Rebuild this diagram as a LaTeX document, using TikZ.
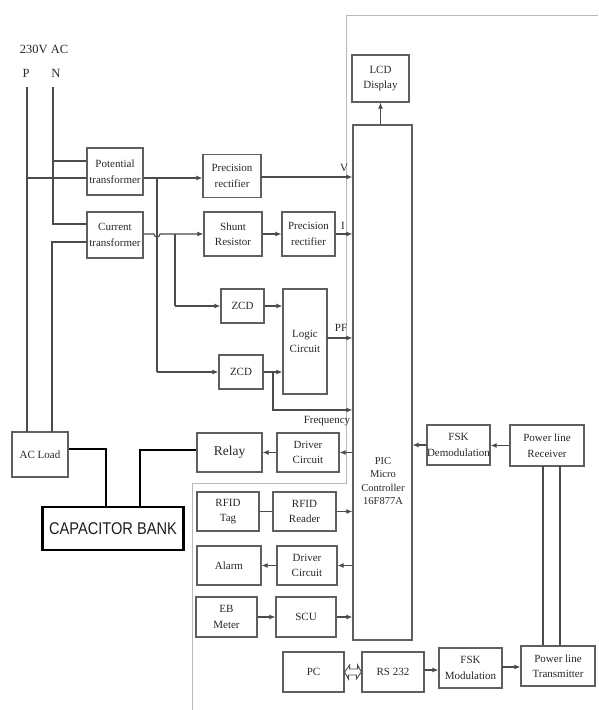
\documentclass[tikz,border=0pt]{standalone}
\usepackage{fontspec}
\setmainfont{Liberation Serif}
\newfontfamily\capfont{Liberation Sans}
\usetikzlibrary{arrows.meta}
\definecolor{boxc}{RGB}{95,95,95}
\definecolor{linec}{RGB}{75,75,75}
\definecolor{txtc}{RGB}{40,40,40}
\definecolor{outc}{RGB}{185,185,185}
\tikzset{
  box/.style={draw=boxc, line width=1.2pt, fill=white, align=center, inner sep=0pt,
    font=\fontsize{11}{15.5}\selectfont, text=txtc},
  arr/.style={-{Latex[length=6pt,width=5pt]}, line width=1.1pt, draw=linec},
  wire/.style={line width=1.1pt, draw=linec},
  blk/.style={line width=1.6pt, draw=black},
  lbl/.style={font=\fontsize{11}{12}\selectfont, text=txtc, inner sep=0pt},
}
\begin{document}
\begin{tikzpicture}[x=1pt, y=-1pt]
\useasboundingbox (0,0) rectangle (598,710);
\fill[white] (0,0) rectangle (598,710);
% light outline
\draw[outc, line width=1pt] (598,15) -- (346,15) -- (346,483) -- (192,483) -- (192,710);
% supply labels
\node[lbl, font=\fontsize{12.5}{14}\selectfont] (acl) at (44,49) {230V AC};
\node[lbl, font=\fontsize{12.5}{14}\selectfont] (pl) at (26,73) {P};
\node[lbl, font=\fontsize{12.5}{14}\selectfont] (nl) at (56,73) {N};
\coordinate (ptop) at (27,87);
\coordinate (ntop) at (53,87);
% boxes
\node[box, minimum width=56pt, minimum height=47pt] (pt) at (115,171.5) {Potential\\transformer};
\node[box, minimum width=56pt, minimum height=46pt] (ct) at (115,235) {Current\\transformer};
\node[box, minimum width=58pt, minimum height=43pt] (pr1) at (232,176) {Precision\\rectifier};
\node[box, minimum width=58pt, minimum height=44pt] (sr) at (233,234) {Shunt\\Resistor};
\node[box, minimum width=53pt, minimum height=44pt] (pr2) at (308.5,234) {Precision\\rectifier};
\node[box, minimum width=59pt, minimum height=515pt] (pic) at (382.5,382.5) {};
\node[lbl, align=center, font=\fontsize{10.5}{13.5}\selectfont] (pictxt) at (383,481) {PIC\\Micro\\Controller\\16F877A};
\node[box, minimum width=57pt, minimum height=47pt] (lcd) at (380.5,78.5) {LCD\\Display};
\node[box, minimum width=43pt, minimum height=34pt] (zcd1) at (242.5,306) {ZCD};
\node[box, minimum width=44pt, minimum height=105pt] (logic) at (305,341.5) {Logic\\Circuit};
\node[box, minimum width=44pt, minimum height=34pt] (zcd2) at (241,372) {ZCD};
\node[box, minimum width=56pt, minimum height=45pt] (acload) at (40,454.5) {AC Load};
\node[box, minimum width=65pt, minimum height=39pt, font=\fontsize{13.5}{15}\selectfont] (relay) at (229.5,452.5) {Relay};
\node[box, minimum width=62pt, minimum height=39pt] (drv1) at (308,452.5) {Driver\\Circuit};
\node[box, minimum width=62pt, minimum height=39pt] (tag) at (228,511.5) {RFID\\Tag};
\node[box, minimum width=63pt, minimum height=39pt] (rdr) at (304.5,511.5) {RFID\\Reader};
\node[box, minimum width=64pt, minimum height=39pt] (alarm) at (229,565.5) {Alarm};
\node[box, minimum width=60pt, minimum height=39pt] (drv2) at (307,565.5) {Driver\\Circuit};
\node[box, minimum width=61pt, minimum height=40pt] (eb) at (226.5,617) {EB\\Meter};
\node[box, minimum width=60pt, minimum height=40pt] (scu) at (306,617) {SCU};
\node[box, minimum width=61pt, minimum height=40pt] (pc) at (313.5,672) {PC};
\node[box, minimum width=62pt, minimum height=40pt] (rs) at (393,672) {RS 232};
\node[box, minimum width=63pt, minimum height=40pt] (fskm) at (470.5,668) {FSK\\Modulation};
\node[box, minimum width=74pt, minimum height=40pt] (plt) at (558,666) {Power line\\Transmitter};
\node[box, minimum width=74pt, minimum height=41pt] (plr) at (547,445.5) {Power line\\Receiver};
\node[box, minimum width=63pt, minimum height=40pt] (fskd) at (458.5,445) {FSK\\Demodulation};
% capacitor bank
\node[draw=black, line width=1.2pt, fill=white, minimum width=140pt, minimum height=43pt, inner sep=0pt,
  font=\capfont\fontsize{17}{17}\selectfont, text={rgb,255:red,30;green,30;blue,30}] (cap) at (113,528.5) {\scalebox{0.86}[1]{CAPACITOR BANK}};
\draw[black, line width=3pt] (cap.north west) -- (cap.south west);
\draw[black, line width=3pt] (cap.north east) -- (cap.south east);
% supply wiring
\coordinate (pptb) at (27,178);
\coordinate (nptb) at (53,161);
\coordinate (nct) at (53,224);
\coordinate (lct) at (52,242);
\coordinate (lload) at (52,432);
\coordinate (pload) at (27,432);
\draw[wire] (ptop) -- (pload);
\draw[wire] (ntop) -- (nct) -- (nct -| ct.west);
\draw[wire] (nptb) -- (nptb -| pt.west);
\draw[wire] (pptb) -- (pptb -| pt.west);
\draw[wire] (lct -| ct.west) -- (lct) -- (lload);
% PT / CT outputs
\coordinate (j1) at (157,178);
\coordinate (j1b) at (157,372);
\coordinate (j2) at (175,234);
\coordinate (j2b) at (175,306);
\draw[arr] (pptb -| pt.east) -- (pptb -| pr1.west);
\draw[wire] (j1) -- (j1b);
\draw[arr] (j1b) -- (j1b -| zcd2.west);
\coordinate (hopa) at (154,234);
\draw[arr] (j2 -| ct.east) -- (hopa) arc[start angle=180, end angle=360, radius=3pt] -- (j2 -| sr.west);
\draw[wire] (j2) -- (j2b);
\draw[arr] (j2b) -- (j2b -| zcd1.west);
% to PIC
\coordinate (vy) at (261,177);
\draw[arr] (vy) -- (vy -| pic.west);
\node[lbl] (vlbl) at (344,168) {V};
\draw[arr] (sr.east) -- (sr.east -| pr2.west);
\draw[arr] (pr2.east) -- (pr2.east -| pic.west);
\node[lbl] (ilbl) at (343,226) {I};
\draw[arr] (zcd1.east) -- (zcd1.east -| logic.west);
\draw[arr] (zcd2.east) -- (zcd2.east -| logic.west);
\coordinate (pfy) at (327,338);
\draw[arr] (pfy) -- (pfy -| pic.west);
\node[lbl] (pflbl) at (341,328) {PF};
\coordinate (j3) at (273,372);
\coordinate (j3b) at (273,410);
\draw[arr] (j3) -- (j3b) -- (j3b -| pic.west);
\node[lbl] (fqlbl) at (327,421) {Frequency};
\draw[arr] (pic.north -| lcd.south) -- (lcd.south);
% relay
\draw[arr] (drv1.east -| pic.west) -- (drv1.east);
\draw[arr] (drv1.west) -- (relay.east);
\coordinate (rl1) at (140,450);
\coordinate (rl2) at (140,507);
\coordinate (al1) at (106,449);
\coordinate (al2) at (106,507);
\draw[blk] (rl1 -| relay.west) -- (rl1) -- (rl2);
\draw[blk] (al1 -| acload.east) -- (al1) -- (al2);
% RFID etc
\draw[wire, line width=0.7pt] (tag.east) -- (rdr.west);
\draw[arr] (rdr.east) -- (rdr.east -| pic.west);
\draw[arr] (drv2.east -| pic.west) -- (drv2.east);
\draw[arr] (drv2.west) -- (alarm.east);
\draw[arr] (eb.east) -- (eb.east -| scu.west);
\draw[arr] (scu.east) -- (scu.east -| pic.west);
% bottom chain: hollow double-headed arrow PC <-> RS 232
\draw[linec, line width=0.9pt, fill=white, line join=miter] (pc.east) -- ++(5,-7) -- ++(0,4) -- ++(8,0) -- ++(0,-4)
  -- (rs.west) -- ++(-5,7) -- ++(0,-4) -- ++(-8,0) -- ++(0,4) -- cycle;
\coordinate (rsy) at (424,670);
\draw[arr] (rsy) -- (rsy -| fskm.west);
\coordinate (fmy) at (502,667);
\draw[arr] (fmy) -- (fmy -| plt.west);
\coordinate (v1) at (543,466);
\coordinate (v2) at (560,466);
\draw[wire] (v1) -- (v1 |- plt.north);
\draw[wire] (v2) -- (v2 |- plt.north);
\draw[arr] (plr.west) -- (plr.west -| fskd.east);
\draw[arr] (fskd.west) -- (fskd.west -| pic.east);
\end{tikzpicture}
\end{document}
